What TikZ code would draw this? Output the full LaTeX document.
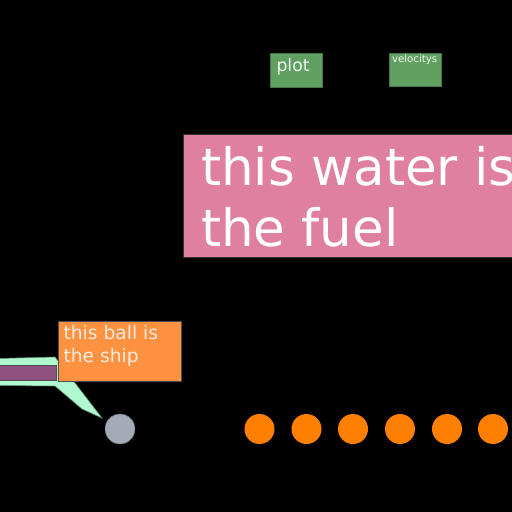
\documentclass[tikz,border=0pt]{standalone}
\usepackage{fontspec}
\setmainfont{DejaVu Sans}
\definecolor{boxgreen}{RGB}{96,160,96}
\definecolor{boxgreenline}{RGB}{70,120,70}
\definecolor{pinkfill}{RGB}{224,128,160}
\definecolor{orangefill}{RGB}{255,146,64}
\definecolor{mint}{RGB}{176,248,208}
\definecolor{mintline}{RGB}{90,140,105}
\definecolor{purplefill}{RGB}{144,80,128}
\definecolor{ballgrey}{RGB}{164,170,182}
\definecolor{fuelorange}{RGB}{255,128,0}
\definecolor{lighttext}{RGB}{240,248,240}
\begin{document}
\begin{tikzpicture}[x=1pt,y=-1pt,
  greenbox/.style={draw=boxgreenline,fill=boxgreen,line width=0.8pt},
  txt/.style={anchor=base west,inner sep=0pt,outer sep=0pt},
  fuel/.style={circle,fill=fuelorange,minimum size=30pt,inner sep=0pt}]
\useasboundingbox (0,0) rectangle (512,512);
\fill[black] (0,0) rectangle (512,512);
\clip (0,0) rectangle (512,512);
% green boxes
\node[greenbox,minimum width=52pt,minimum height=34pt,inner sep=0pt] (plotbox) at (296,70) {};
\node[txt,text=lighttext,font=\fontsize{17.3}{20}\selectfont] (plottxt) at (276.5,71.5) {plot};
\node[greenbox,minimum width=52pt,minimum height=33pt,inner sep=0pt] (velbox) at (415,69.5) {};
\node[txt,text=lighttext,font=\fontsize{10.2}{12}\selectfont] (veltxt) at (392,62.5) {velocitys};
% pink box
\node[draw=black!80,fill=pinkfill,line width=0.8pt,minimum width=340pt,minimum height=123pt,inner sep=0pt,anchor=north west] (pinkbox) at (183,134) {};
\node[txt,text=white,font=\fontsize{51.5}{62}\selectfont] (water1) at (201,185.5) {this water is};
\node[txt,text=white,font=\fontsize{51.5}{62}\selectfont] (water2) at (201,246.5) {the fuel};
% ship pointer
\filldraw[fill=mint,draw=mintline,line width=0.6pt] (-2,358.5) -- (55,357) -- (102,418) -- (82,409) -- (55,386) -- (-2,385.5) -- cycle;
\filldraw[fill=purplefill,draw=black!70,line width=0.8pt] (-2,365) rectangle (56,380);
% orange box
\node[draw=black!70,fill=orangefill,line width=0.8pt,minimum width=123pt,minimum height=60pt,inner sep=0pt,anchor=north west] (shipbox) at (58,321) {};
\node[txt,text={rgb,255:red,255;green,236;blue,224},font=\fontsize{18.7}{22}\selectfont] (ship1) at (63.5,339) {this ball is};
\node[txt,text={rgb,255:red,255;green,236;blue,224},font=\fontsize{18.7}{22}\selectfont] (ship2) at (63.5,362) {the ship};
% ball
\node[circle,fill=ballgrey,draw=black!60,line width=0.5pt,minimum size=30pt,inner sep=0pt] (ball) at (120,429) {};
% fuel balls
\node[fuel] (f1) at (259.5,429) {};
\node[fuel] (f2) at (306.5,429) {};
\node[fuel] (f3) at (353,429) {};
\node[fuel] (f4) at (400,429) {};
\node[fuel] (f5) at (447,429) {};
\node[fuel] (f6) at (493,429) {};
\end{tikzpicture}
\end{document}
